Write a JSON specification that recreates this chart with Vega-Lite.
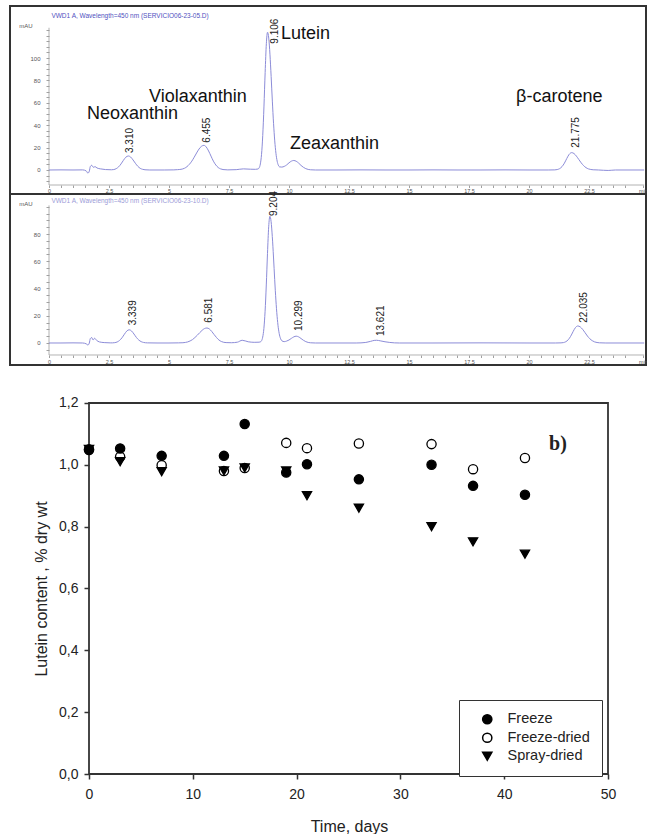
{
  "$schema": "https://vega.github.io/schema/vega-lite/v6.json",
  "padding": {"left": 9, "top": 5, "right": 2, "bottom": 0},
  "background": "white",
  "bounds": "flush",
  "spacing": 0,
  "config": {"font": "Liberation Sans", "view": {"stroke": null}, "axis": {"grid": false}},
  "datasets": {
    "chrom1": [
      {"t":0,"v":0},{"t":0.5,"v":0.1},{"t":1.0,"v":0},{"t":1.4,"v":0.1},{"t":1.55,"v":-0.8},{"t":1.62,"v":-2.8},{"t":1.68,"v":-1.0},{"t":1.72,"v":3.0},{"t":1.78,"v":4.2},{"t":1.85,"v":2.4},{"t":1.92,"v":3.0},{"t":2.0,"v":1.8},{"t":2.15,"v":1.0},{"t":2.35,"v":0.4},{"t":2.6,"v":0.2},
      {"t":2.7,"v":0.4},{"t":2.8,"v":1.2},{"t":2.9,"v":2.8},{"t":3.0,"v":5.4},{"t":3.1,"v":8.6},{"t":3.2,"v":11.4},{"t":3.31,"v":12.5},{"t":3.4,"v":11.6},{"t":3.5,"v":9.0},{"t":3.6,"v":6.0},{"t":3.7,"v":3.3},{"t":3.8,"v":1.5},{"t":3.9,"v":0.6},{"t":4.0,"v":0.2},{"t":4.2,"v":0},{"t":4.8,"v":0},{"t":5.2,"v":0.1},
      {"t":5.35,"v":0.3},{"t":5.55,"v":0.8},{"t":5.65,"v":1.6},{"t":5.75,"v":3.0},{"t":5.85,"v":5.1},{"t":5.95,"v":7.9},{"t":6.05,"v":11.4},{"t":6.15,"v":15.2},{"t":6.25,"v":18.7},{"t":6.35,"v":21.1},{"t":6.455,"v":22},{"t":6.55,"v":20.6},{"t":6.65,"v":17.0},{"t":6.75,"v":12.4},{"t":6.85,"v":7.9},{"t":6.95,"v":4.5},{"t":7.05,"v":2.2},{"t":7.15,"v":1.0},{"t":7.25,"v":0.4},{"t":7.45,"v":0.1},
      {"t":7.8,"v":0.3},{"t":8.1,"v":1.0},{"t":8.4,"v":0.7},{"t":8.6,"v":0.6},{"t":8.706,"v":0.9},{"t":8.756,"v":1.9},{"t":8.806,"v":5.4},{"t":8.856,"v":14.0},{"t":8.906,"v":30.8},{"t":8.956,"v":56.3},{"t":9.006,"v":87.0},{"t":9.056,"v":112.8},{"t":9.106,"v":123},{"t":9.156,"v":117.8},{"t":9.206,"v":103.4},{"t":9.256,"v":83.4},{"t":9.306,"v":61.5},{"t":9.356,"v":41.7},{"t":9.406,"v":26.0},{"t":9.456,"v":14.9},{"t":9.506,"v":7.9},{"t":9.556,"v":4.3},{"t":9.606,"v":2.8},{"t":9.7,"v":2.6},{"t":9.8,"v":3.2},{"t":9.9,"v":4.5},{"t":10.0,"v":6.4},{"t":10.1,"v":7.9},{"t":10.2,"v":8.5},{"t":10.3,"v":7.8},{"t":10.4,"v":6.2},{"t":10.5,"v":4.1},{"t":10.6,"v":2.4},{"t":10.7,"v":1.2},{"t":10.8,"v":0.5},{"t":10.9,"v":0.2},{"t":11.1,"v":0},
      {"t":12,"v":0},{"t":13,"v":0.1},{"t":14,"v":0},{"t":15,"v":0},{"t":16,"v":0.1},{"t":17,"v":0},{"t":18,"v":0},{"t":19,"v":0.1},{"t":20,"v":0},{"t":20.8,"v":0},
      {"t":21.075,"v":0.1},{"t":21.175,"v":0.4},{"t":21.275,"v":1.2},{"t":21.375,"v":3.0},{"t":21.475,"v":6.1},{"t":21.575,"v":10.3},{"t":21.675,"v":14.0},{"t":21.775,"v":15.5},{"t":21.875,"v":14.7},{"t":21.975,"v":12.4},{"t":22.075,"v":9.4},{"t":22.175,"v":6.4},{"t":22.275,"v":3.9},{"t":22.375,"v":2.1},{"t":22.475,"v":1.0},{"t":22.575,"v":0.45},{"t":22.675,"v":0.2},{"t":22.9,"v":0},{"t":23.3,"v":-0.4},{"t":23.6,"v":0},{"t":24.8,"v":0}
    ],
    "chrom2": [
      {"t":0,"v":0},{"t":0.5,"v":0},{"t":1.0,"v":0.1},{"t":1.4,"v":0},{"t":1.55,"v":-0.6},{"t":1.62,"v":-1.5},{"t":1.68,"v":0},{"t":1.72,"v":3.2},{"t":1.78,"v":4.0},{"t":1.84,"v":2.2},{"t":1.9,"v":3.5},{"t":1.98,"v":2.0},{"t":2.1,"v":0.8},{"t":2.3,"v":0.3},{"t":2.55,"v":0.1},
      {"t":2.64,"v":0.1},{"t":2.74,"v":0.25},{"t":2.84,"v":0.75},{"t":2.94,"v":1.9},{"t":3.04,"v":3.8},{"t":3.14,"v":6.4},{"t":3.24,"v":8.75},{"t":3.339,"v":9.7},{"t":3.44,"v":8.8},{"t":3.54,"v":6.6},{"t":3.64,"v":4.1},{"t":3.74,"v":2.2},{"t":3.84,"v":1.0},{"t":3.94,"v":0.4},{"t":4.1,"v":0.1},{"t":4.5,"v":0},{"t":5.0,"v":0},{"t":5.4,"v":0.1},
      {"t":5.58,"v":0.2},{"t":5.68,"v":0.4},{"t":5.78,"v":0.8},{"t":5.88,"v":1.5},{"t":5.98,"v":2.5},{"t":6.08,"v":4.0},{"t":6.18,"v":5.7},{"t":6.28,"v":7.6},{"t":6.38,"v":9.3},{"t":6.48,"v":10.6},{"t":6.581,"v":11},{"t":6.68,"v":10.3},{"t":6.78,"v":8.5},{"t":6.88,"v":6.2},{"t":6.98,"v":4.0},{"t":7.08,"v":2.2},{"t":7.18,"v":1.1},{"t":7.28,"v":0.5},{"t":7.38,"v":0.3},{"t":7.6,"v":0.2},
      {"t":7.85,"v":0.6},{"t":8.05,"v":2.0},{"t":8.3,"v":0.9},{"t":8.55,"v":0.5},{"t":8.754,"v":0.6},{"t":8.804,"v":0.8},{"t":8.854,"v":1.6},{"t":8.904,"v":4.3},{"t":8.954,"v":10.7},{"t":9.004,"v":23.3},{"t":9.054,"v":42.6},{"t":9.104,"v":65.8},{"t":9.154,"v":85.3},{"t":9.204,"v":93},{"t":9.254,"v":89.1},{"t":9.304,"v":78.2},{"t":9.354,"v":63.1},{"t":9.404,"v":46.5},{"t":9.454,"v":31.5},{"t":9.504,"v":19.6},{"t":9.554,"v":11.2},{"t":9.604,"v":5.9},{"t":9.654,"v":3.0},{"t":9.704,"v":1.6},{"t":9.8,"v":1.0},{"t":9.9,"v":1.4},{"t":10.0,"v":2.2},{"t":10.1,"v":3.4},{"t":10.2,"v":4.5},{"t":10.299,"v":5.0},{"t":10.4,"v":4.5},{"t":10.5,"v":3.3},{"t":10.6,"v":2.0},{"t":10.7,"v":1.0},{"t":10.8,"v":0.4},{"t":10.9,"v":0.15},{"t":11.1,"v":0},
      {"t":12,"v":0},{"t":12.8,"v":0},{"t":13.0,"v":0.1},{"t":13.2,"v":0.4},{"t":13.4,"v":1.2},{"t":13.55,"v":1.9},{"t":13.65,"v":2.0},{"t":13.8,"v":1.6},{"t":14.0,"v":0.9},{"t":14.2,"v":0.4},{"t":14.4,"v":0.1},{"t":14.6,"v":0},{"t":16,"v":0},{"t":18,"v":0.1},{"t":20,"v":0},{"t":21.1,"v":0},
      {"t":21.335,"v":0.1},{"t":21.435,"v":0.3},{"t":21.535,"v":0.95},{"t":21.635,"v":2.4},{"t":21.735,"v":4.9},{"t":21.835,"v":8.3},{"t":21.935,"v":11.3},{"t":22.035,"v":12.5},{"t":22.135,"v":11.8},{"t":22.235,"v":10.0},{"t":22.335,"v":7.6},{"t":22.435,"v":5.1},{"t":22.535,"v":3.1},{"t":22.635,"v":1.7},{"t":22.735,"v":0.8},{"t":22.835,"v":0.36},{"t":22.935,"v":0.14},{"t":23.2,"v":0},{"t":24.8,"v":0}
    ],
    "axes1": [{"t":0,"t2":0,"v":-13.4,"v2":127},{"t":0,"t2":24.8,"v":-13.4,"v2":-13.4}],
    "axes2": [{"t":0,"t2":0,"v":-8.8,"v2":101},{"t":0,"t2":24.8,"v":-8.8,"v2":-8.8}],
    "peaks1": [
      {"lab":"3.310","t":3.36,"v":15.2},{"lab":"6.455","t":6.6,"v":24.4},{"lab":"9.106","t":9.42,"v":112.8},{"lab":"21.775","t":21.96,"v":19.9}
    ],
    "peaks2": [
      {"lab":"3.339","t":3.49,"v":13},{"lab":"6.581","t":6.68,"v":14.9},{"lab":"9.204","t":9.39,"v":93.2},{"lab":"10.299","t":10.43,"v":8.8},{"lab":"13.621","t":13.83,"v":5.1},{"lab":"22.035","t":22.3,"v":14.9}
    ],
    "names1": [
      {"name":"Neoxanthin","t":1.58,"v":50},{"name":"Violaxanthin","t":4.17,"v":65.2},{"name":"Lutein","t":9.67,"v":121.4},{"name":"Zeaxanthin","t":10.04,"v":23.2},{"name":"β-carotene","t":19.46,"v":65.2}
    ],
    "head1": [{"txt":"VWD1 A, Wavelength=450 nm (SERVICIO06-23-05.D)","t":0.1,"v":137.5}],
    "head2": [{"txt":"VWD1 A, Wavelength=450 nm (SERVICIO06-23-10.D)","t":0.1,"v":104.2}],
    "mau1": [{"txt":"mAU","t":-0.96,"v":128.6}],
    "mau2": [{"txt":"mAU","t":-0.96,"v":102}],
    "frame3": [{"day":0,"day2":50,"val":0,"val2":1.2}],
    "lutein": [
      {"series":"Freeze-dried","day":0,"val":1.05},{"series":"Freeze-dried","day":3,"val":1.026},{"series":"Freeze-dried","day":7,"val":0.999},{"series":"Freeze-dried","day":13,"val":0.98},{"series":"Freeze-dried","day":15,"val":0.99},{"series":"Freeze-dried","day":19,"val":1.071},{"series":"Freeze-dried","day":21,"val":1.054},{"series":"Freeze-dried","day":26,"val":1.069},{"series":"Freeze-dried","day":33,"val":1.067},{"series":"Freeze-dried","day":37,"val":0.986},{"series":"Freeze-dried","day":42,"val":1.022},
      {"series":"Spray-dried","day":0,"val":1.05},{"series":"Spray-dried","day":3,"val":1.01},{"series":"Spray-dried","day":7,"val":0.978},{"series":"Spray-dried","day":13,"val":0.98},{"series":"Spray-dried","day":15,"val":0.99},{"series":"Spray-dried","day":19,"val":0.98},{"series":"Spray-dried","day":21,"val":0.90},{"series":"Spray-dried","day":26,"val":0.86},{"series":"Spray-dried","day":33,"val":0.80},{"series":"Spray-dried","day":37,"val":0.751},{"series":"Spray-dried","day":42,"val":0.711},
      {"series":"Freeze","day":0,"val":1.048},{"series":"Freeze","day":3,"val":1.053},{"series":"Freeze","day":7,"val":1.029},{"series":"Freeze","day":13,"val":1.029},{"series":"Freeze","day":15,"val":1.132},{"series":"Freeze","day":19,"val":0.975},{"series":"Freeze","day":21,"val":1.002},{"series":"Freeze","day":26,"val":0.953},{"series":"Freeze","day":33,"val":1.0},{"series":"Freeze","day":37,"val":0.932},{"series":"Freeze","day":42,"val":0.903}
    ],
    "blabel": [{"txt":"b)","day":45.18,"val":1.067}]
  },
  "vconcat": [
    {
      "width": 636,
      "height": 188,
      "view": {"stroke": "#333", "strokeWidth": 2},
      "encoding": {
        "x": {"field": "t", "type": "quantitative",
          "scale": {"domain": [-1.625, 24.875], "nice": false, "zero": false},
          "axis": {"orient": "bottom", "offset": -9, "title": null, "domain": false,
            "values": [0,0.5,1,1.5,2,2.5,3,3.5,4,4.5,5,5.5,6,6.5,7,7.5,8,8.5,9,9.5,10,10.5,11,11.5,12,12.5,13,13.5,14,14.5,15,15.5,16,16.5,17,17.5,18,18.5,19,19.5,20,20.5,21,21.5,22,22.5,23,23.5,24,24.75],
            "labelExpr": "datum.value > 24.6 ? 'min' : (datum.value % 2.5 == 0 ? format(datum.value, '~g') : '')",
            "labelOverlap": false, "labelFlush": false,
            "tickSize": 2.5, "tickWidth": 0.8, "tickColor": "#888",
            "labelFontSize": 5.5, "labelColor": "#555", "labelPadding": 0.5}},
        "y": {"field": "v", "type": "quantitative",
          "scale": {"domain": [-21.43, 146.43], "nice": false, "zero": false},
          "axis": {"orient": "left", "offset": -39, "title": null, "domain": false,
            "values": [-10,-5,0,5,10,15,20,25,30,35,40,45,50,55,60,65,70,75,80,85,90,95,100,105,110,115,120,125],
            "labelExpr": "datum.value >= 0 && datum.value <= 100 && datum.value % 20 == 0 ? format(datum.value, 'd') : ''",
            "labelOverlap": false, "labelFlush": false,
            "tickSize": 3, "tickWidth": 0.8, "tickColor": "#888",
            "labelFontSize": 6, "labelColor": "#555", "labelPadding": 6}}
      },
      "layer": [
        {"data": {"name": "axes1"}, "mark": {"type": "rule", "color": "#a0a0a0", "strokeWidth": 0.8},
          "encoding": {"x2": {"field": "t2"}, "y2": {"field": "v2"}}},
        {"data": {"name": "chrom1"}, "mark": {"type": "line", "color": "#8c8cd8", "strokeWidth": 1, "interpolate": "monotone"}},
        {"data": {"name": "peaks1"}, "mark": {"type": "text", "angle": 270, "align": "left", "baseline": "middle", "fontSize": 10, "color": "#222"},
          "encoding": {"text": {"field": "lab"}}},
        {"data": {"name": "names1"}, "mark": {"type": "text", "align": "left", "baseline": "middle", "fontSize": 18, "color": "#111"},
          "encoding": {"text": {"field": "name"}}},
        {"data": {"name": "head1"}, "mark": {"type": "text", "align": "left", "baseline": "middle", "fontSize": 6.5, "color": "#5050c0"},
          "encoding": {"text": {"field": "txt"}}},
        {"data": {"name": "mau1"}, "mark": {"type": "text", "align": "center", "baseline": "middle", "fontSize": 6, "color": "#555"},
          "encoding": {"text": {"field": "txt"}}}
      ]
    },
    {
      "width": 636,
      "height": 171,
      "view": {"stroke": "#333", "strokeWidth": 2},
      "encoding": {
        "x": {"field": "t", "type": "quantitative",
          "scale": {"domain": [-1.625, 24.875], "nice": false, "zero": false},
          "axis": {"orient": "bottom", "offset": -10, "title": null, "domain": false,
            "values": [0,0.5,1,1.5,2,2.5,3,3.5,4,4.5,5,5.5,6,6.5,7,7.5,8,8.5,9,9.5,10,10.5,11,11.5,12,12.5,13,13.5,14,14.5,15,15.5,16,16.5,17,17.5,18,18.5,19,19.5,20,20.5,21,21.5,22,22.5,23,23.5,24,24.75],
            "labelExpr": "datum.value > 24.6 ? 'min' : (datum.value % 2.5 == 0 ? format(datum.value, '~g') : '')",
            "labelOverlap": false, "labelFlush": false,
            "tickSize": 2.5, "tickWidth": 0.8, "tickColor": "#888",
            "labelFontSize": 5.5, "labelColor": "#555", "labelPadding": 1.5}},
        "y": {"field": "v", "type": "quantitative",
          "scale": {"domain": [-16.15, 109.36], "nice": false, "zero": false},
          "axis": {"orient": "left", "offset": -39, "title": null, "domain": false,
            "values": [-5,0,5,10,15,20,25,30,35,40,45,50,55,60,65,70,75,80,85,90,95,100],
            "labelExpr": "datum.value >= 0 && datum.value <= 80 && datum.value % 20 == 0 ? format(datum.value, 'd') : ''",
            "labelOverlap": false, "labelFlush": false,
            "tickSize": 3, "tickWidth": 0.8, "tickColor": "#888",
            "labelFontSize": 6, "labelColor": "#555", "labelPadding": 6}}
      },
      "layer": [
        {"data": {"name": "axes2"}, "mark": {"type": "rule", "color": "#a0a0a0", "strokeWidth": 0.8},
          "encoding": {"x2": {"field": "t2"}, "y2": {"field": "v2"}}},
        {"data": {"name": "chrom2"}, "mark": {"type": "line", "color": "#8c8cd8", "strokeWidth": 1, "interpolate": "monotone"}},
        {"data": {"name": "peaks2"}, "mark": {"type": "text", "angle": 270, "align": "left", "baseline": "middle", "fontSize": 10, "color": "#222"},
          "encoding": {"text": {"field": "lab"}}},
        {"data": {"name": "head2"}, "mark": {"type": "text", "align": "left", "baseline": "middle", "fontSize": 6.5, "color": "#7070c8", "opacity": 0.7},
          "encoding": {"text": {"field": "txt"}}},
        {"data": {"name": "mau2"}, "mark": {"type": "text", "align": "center", "baseline": "middle", "fontSize": 6, "color": "#555"},
          "encoding": {"text": {"field": "txt"}}}
      ]
    },
    {
      "width": 636,
      "height": 409,
      "encoding": {
        "x": {"field": "day", "type": "quantitative",
          "scale": {"domain": [-7.611, 53.661], "nice": false, "zero": false},
          "axis": {"orient": "bottom", "values": [0,10,20,30,40,50], "domain": false,
            "tickSize": 5, "tickWidth": 1.5, "tickColor": "#333",
            "labelFontSize": 14, "labelColor": "#222", "labelPadding": 8, "labelFlush": false,
            "title": "Time, days", "titleFontSize": 16, "titleFontWeight": "normal", "titleColor": "#222",
            "titleX": 339, "titleY": 52, "titleBaseline": "middle"}},
        "y": {"field": "val", "type": "quantitative",
          "scale": {"domain": [0, 1.3229], "nice": false, "zero": false},
          "axis": {"orient": "left", "offset": -79, "values": [0,0.2,0.4,0.6,0.8,1,1.2], "domain": false,
            "labelExpr": "replace(format(datum.value, '.1f'), '.', ',')",
            "tickSize": 5, "tickWidth": 1.5, "tickColor": "#333",
            "labelFontSize": 14, "labelColor": "#222", "labelPadding": 6, "labelFlush": false,
            "title": "Lutein content , % dry wt", "titleFontSize": 16, "titleFontWeight": "normal", "titleColor": "#222",
            "titlePadding": 9, "titleY": 223.5}}
      },
      "layer": [
        {"data": {"name": "frame3"}, "mark": {"type": "rect", "fillOpacity": 0, "stroke": "#333", "strokeWidth": 1.8},
          "encoding": {"x2": {"field": "day2"}, "y2": {"field": "val2"}}},
        {"data": {"name": "lutein"},
          "mark": {"type": "point", "filled": true, "size": 85, "strokeWidth": 1.3, "opacity": 1},
          "encoding": {
            "stroke": {"value": "black"},
            "fill": {"field": "series", "type": "nominal",
              "scale": {"domain": ["Freeze", "Freeze-dried", "Spray-dried"], "range": ["black", "white", "black"]},
              "legend": {"title": null, "orient": "none", "legendX": 449, "legendY": 694,
                "strokeColor": "#333", "fillColor": "white", "padding": 12,
                "symbolOffset": 9, "labelOffset": 13, "labelFontSize": 14.5, "labelColor": "#222",
                "symbolSize": 85, "rowPadding": 2.5,
                "encode": {"symbols": {"update": {"stroke": {"value": "black"}, "strokeWidth": {"value": 1.3}}}}}},
            "shape": {"field": "series", "type": "nominal",
              "scale": {"domain": ["Freeze", "Freeze-dried", "Spray-dried"], "range": ["circle", "circle", "triangle-down"]},
              "legend": {"title": null, "orient": "none", "legendX": 449, "legendY": 694,
                "strokeColor": "#333", "fillColor": "white", "padding": 12,
                "symbolOffset": 9, "labelOffset": 13, "labelFontSize": 14.5, "labelColor": "#222",
                "symbolSize": 85, "rowPadding": 2.5,
                "encode": {"symbols": {"update": {"stroke": {"value": "black"}, "strokeWidth": {"value": 1.3}}}}}}
          }},
        {"data": {"name": "blabel"}, "mark": {"type": "text", "align": "center", "baseline": "middle", "fontSize": 20, "font": "Liberation Serif", "fontWeight": "bold", "color": "#222"},
          "encoding": {"text": {"field": "txt"}}}
      ]
    }
  ]
}
